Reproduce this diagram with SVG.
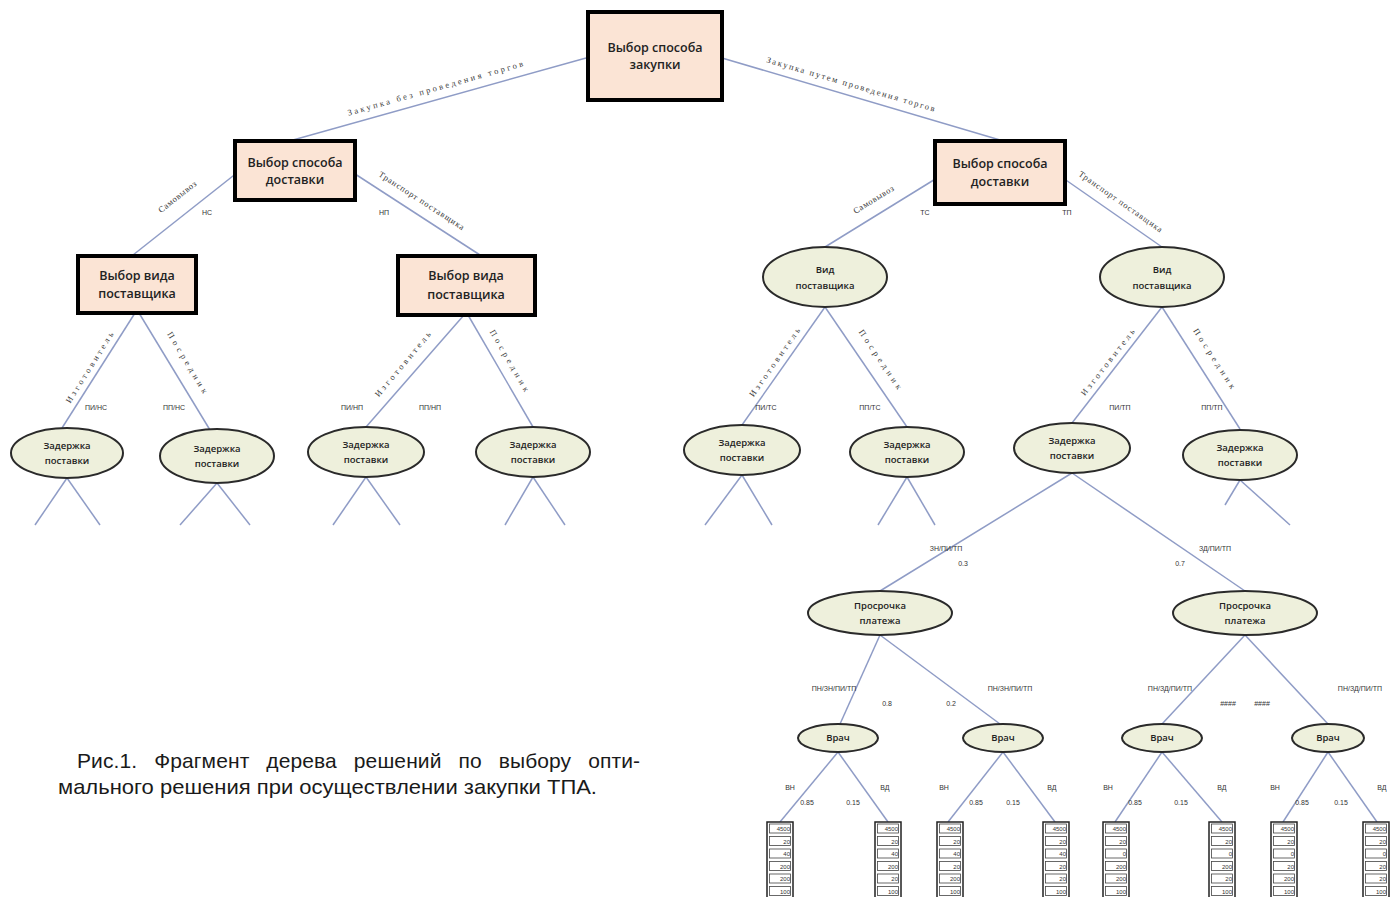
<svg xmlns="http://www.w3.org/2000/svg" xmlns:xlink="http://www.w3.org/1999/xlink" width="1391" height="897" viewBox="0 0 1391 897">
<style>
.box{fill:#fbe4d5;stroke:#000;stroke-width:4}
.ell{fill:#eef0dc;stroke:#2a2a2a;stroke-width:2}
.ln{stroke:#8f9cc6;stroke-width:1.5;fill:none}
.nt{font-family:"Open Sans","Liberation Sans",sans-serif;font-size:12.5px;font-weight:600;fill:#222;text-anchor:middle}
.et{font-family:"Open Sans","Liberation Sans",sans-serif;font-size:9.5px;font-weight:600;fill:#222;text-anchor:middle}
.el{font-family:"Liberation Serif",serif;font-size:8.5px;fill:#3a3a3a;text-anchor:middle}
.sm{font-family:"Liberation Sans",sans-serif;font-size:7px;fill:#333;text-anchor:middle}
.tv{font-family:"Liberation Sans",sans-serif;font-size:6px;fill:#333;text-anchor:end}
.cap{font-family:"Liberation Sans",sans-serif;font-size:21px;fill:#1a1a1a}
.tf{fill:#fff;stroke:#222;stroke-width:1.5}
.tc{fill:#fff;stroke:#444;stroke-width:0.8}
</style>
<defs>
<g id="frame">
<rect class="tf" x="0" y="0" width="26" height="76"/>
<rect class="tc" x="2.5" y="2" width="21" height="9"/>
<rect class="tc" x="2.5" y="14.5" width="21" height="9"/>
<rect class="tc" x="2.5" y="27" width="21" height="9"/>
<rect class="tc" x="2.5" y="39.5" width="21" height="9"/>
<rect class="tc" x="2.5" y="52" width="21" height="9"/>
<rect class="tc" x="2.5" y="64.5" width="21" height="9"/>
</g>
</defs>
<rect width="1391" height="897" fill="#fff"/>

<g id="connectors">
<line class="ln" x1="586" y1="58" x2="293" y2="140"/>
<line class="ln" x1="722" y1="58" x2="1000" y2="140"/>
<line class="ln" x1="238" y1="172" x2="133" y2="255"/>
<line class="ln" x1="352" y1="172" x2="480" y2="255"/>
<line class="ln" x1="937" y1="178" x2="825" y2="247"/>
<line class="ln" x1="1063" y1="178" x2="1162" y2="247"/>
<line class="ln" x1="135" y1="313" x2="62" y2="428"/>
<line class="ln" x1="139" y1="313" x2="210" y2="430"/>
<line class="ln" x1="464" y1="315" x2="366" y2="427"/>
<line class="ln" x1="468" y1="315" x2="533" y2="427"/>
<line class="ln" x1="825" y1="307" x2="742" y2="425"/>
<line class="ln" x1="825" y1="307" x2="907" y2="427"/>
<line class="ln" x1="1162" y1="307" x2="1072" y2="423"/>
<line class="ln" x1="1162" y1="307" x2="1240" y2="429"/>
<line class="ln" x1="67" y1="478" x2="35" y2="525"/>
<line class="ln" x1="67" y1="478" x2="100" y2="525"/>
<line class="ln" x1="217" y1="483" x2="180" y2="525"/>
<line class="ln" x1="217" y1="483" x2="250" y2="525"/>
<line class="ln" x1="366" y1="477" x2="333" y2="525"/>
<line class="ln" x1="366" y1="477" x2="400" y2="525"/>
<line class="ln" x1="533" y1="477" x2="505" y2="525"/>
<line class="ln" x1="533" y1="477" x2="565" y2="525"/>
<line class="ln" x1="742" y1="475" x2="705" y2="525"/>
<line class="ln" x1="742" y1="475" x2="772" y2="525"/>
<line class="ln" x1="907" y1="477" x2="878" y2="525"/>
<line class="ln" x1="907" y1="477" x2="935" y2="525"/>
<line class="ln" x1="1072" y1="473" x2="880" y2="591"/>
<line class="ln" x1="1072" y1="473" x2="1245" y2="591"/>
<line class="ln" x1="1240" y1="480" x2="1225" y2="505"/>
<line class="ln" x1="1240" y1="480" x2="1290" y2="525"/>
<line class="ln" x1="880" y1="635" x2="840" y2="724"/>
<line class="ln" x1="880" y1="635" x2="1000" y2="724"/>
<line class="ln" x1="1245" y1="635" x2="1162" y2="724"/>
<line class="ln" x1="1245" y1="635" x2="1328" y2="724"/>
<line class="ln" x1="838" y1="752" x2="780" y2="822"/>
<line class="ln" x1="838" y1="752" x2="888" y2="822"/>
<line class="ln" x1="1003" y1="752" x2="948" y2="822"/>
<line class="ln" x1="1003" y1="752" x2="1055" y2="822"/>
<line class="ln" x1="1162" y1="752" x2="1115" y2="822"/>
<line class="ln" x1="1162" y1="752" x2="1222" y2="822"/>
<line class="ln" x1="1328" y1="752" x2="1283" y2="822"/>
<line class="ln" x1="1328" y1="752" x2="1377" y2="822"/>

<text class="el" transform="translate(436,91) rotate(-15.8)" textLength="182" lengthAdjust="spacing">Закупка  без проведения торгов</text>
<text class="el" transform="translate(850,87) rotate(16.4)" textLength="175" lengthAdjust="spacing">Закупка путем проведения торгов</text>
<text class="el" transform="translate(179,199) rotate(-38)" textLength="46" lengthAdjust="spacing">Самовывоз</text>
<text class="sm" x="207" y="215">НС</text>
<text class="el" transform="translate(420,203) rotate(33)" textLength="100" lengthAdjust="spacing">Транспорт поставщика</text>
<text class="sm" x="384" y="215">НП</text>
<text class="el" transform="translate(875,202) rotate(-31.6)" textLength="46" lengthAdjust="spacing">Самовывоз</text>
<text class="sm" x="925" y="215">ТС</text>
<text class="el" transform="translate(1119,204) rotate(35)" textLength="100" lengthAdjust="spacing">Транспорт поставщика</text>
<text class="sm" x="1067" y="215">ТП</text>

<text class="el" transform="translate(92,369) rotate(-58)" textLength="82" lengthAdjust="spacing">Изготовитель</text>
<text class="el" transform="translate(185,364) rotate(59)" textLength="70" lengthAdjust="spacing">Посредник</text>
<text class="sm" x="96" y="410">ПИ/НС</text>
<text class="sm" x="174" y="410">ПП/НС</text>
<text class="el" transform="translate(405,366) rotate(-50)" textLength="82" lengthAdjust="spacing">Изготовитель</text>
<text class="el" transform="translate(507,362) rotate(60)" textLength="70" lengthAdjust="spacing">Посредник</text>
<text class="sm" x="352" y="410">ПИ/НП</text>
<text class="sm" x="430" y="410">ПП/НП</text>
<text class="el" transform="translate(777,364) rotate(-55)" textLength="82" lengthAdjust="spacing">Изготовитель</text>
<text class="el" transform="translate(878,361) rotate(56)" textLength="70" lengthAdjust="spacing">Посредник</text>
<text class="sm" x="766" y="410">ПИ/ТС</text>
<text class="sm" x="870" y="410">ПП/ТС</text>
<text class="el" transform="translate(1110,364) rotate(-52)" textLength="82" lengthAdjust="spacing">Изготовитель</text>
<text class="el" transform="translate(1212,360) rotate(57)" textLength="70" lengthAdjust="spacing">Посредник</text>
<text class="sm" x="1120" y="410">ПИ/ТП</text>
<text class="sm" x="1212" y="410">ПП/ТП</text>

<text class="sm" x="946" y="551">ЗН/ПИ/ТП</text>
<text class="sm" x="963" y="566">0.3</text>
<text class="sm" x="1215" y="551">ЗД/ПИ/ТП</text>
<text class="sm" x="1180" y="566">0.7</text>

<text class="sm" x="834" y="691">ПН/ЗН/ПИ/ТП</text>
<text class="sm" x="887" y="706">0.8</text>
<text class="sm" x="951" y="706">0.2</text>
<text class="sm" x="1010" y="691">ПН/ЗН/ПИ/ТП</text>
<text class="sm" x="1170" y="691">ПН/ЗД/ПИ/ТП</text>
<text class="sm" x="1228" y="706">####</text>
<text class="sm" x="1262" y="706">####</text>
<text class="sm" x="1360" y="691">ПН/ЗД/ПИ/ТП</text>

<text class="sm" x="790" y="790">ВН</text>
<text class="sm" x="807" y="805">0.85</text>
<text class="sm" x="853" y="805">0.15</text>
<text class="sm" x="885" y="790">ВД</text>
<text class="sm" x="944" y="790">ВН</text>
<text class="sm" x="976" y="805">0.85</text>
<text class="sm" x="1013" y="805">0.15</text>
<text class="sm" x="1052" y="790">ВД</text>
<text class="sm" x="1108" y="790">ВН</text>
<text class="sm" x="1135" y="805">0.85</text>
<text class="sm" x="1181" y="805">0.15</text>
<text class="sm" x="1222" y="790">ВД</text>
<text class="sm" x="1275" y="790">ВН</text>
<text class="sm" x="1302" y="805">0.85</text>
<text class="sm" x="1341" y="805">0.15</text>
<text class="sm" x="1382" y="790">ВД</text>
</g>

<g id="n-root"><rect class="box" x="588" y="12" width="134" height="88"/><text class="nt" x="655" y="52">Выбор способа</text><text class="nt" x="655" y="69">закупки</text></g>
<g id="n-deliv-l"><rect class="box" x="235" y="141" width="120" height="59"/><text class="nt" x="295" y="167">Выбор способа</text><text class="nt" x="295" y="184">доставки</text></g>
<g id="n-deliv-r"><rect class="box" x="935" y="141" width="130" height="63"/><text class="nt" x="1000" y="168">Выбор способа</text><text class="nt" x="1000" y="186">доставки</text></g>
<g id="n-sup-1"><rect class="box" x="78" y="256" width="118" height="57"/><text class="nt" x="137" y="280">Выбор вида</text><text class="nt" x="137" y="298">поставщика</text></g>
<g id="n-sup-2"><rect class="box" x="398" y="256" width="137" height="59"/><text class="nt" x="466" y="280">Выбор вида</text><text class="nt" x="466" y="299">поставщика</text></g>
<g id="n-sup-3"><ellipse class="ell" cx="825" cy="277" rx="62" ry="30"/><text class="et" x="825" y="273">Вид</text><text class="et" x="825" y="289">поставщика</text></g>
<g id="n-sup-4"><ellipse class="ell" cx="1162" cy="277" rx="62" ry="30"/><text class="et" x="1162" y="273">Вид</text><text class="et" x="1162" y="289">поставщика</text></g>

<g id="n-del-1"><ellipse class="ell" cx="67" cy="453" rx="56" ry="25"/><text class="et" x="67" y="449">Задержка</text><text class="et" x="67" y="464">поставки</text></g>
<g id="n-del-2"><ellipse class="ell" cx="217" cy="456" rx="57" ry="27"/><text class="et" x="217" y="452">Задержка</text><text class="et" x="217" y="467">поставки</text></g>
<g id="n-del-3"><ellipse class="ell" cx="366" cy="452" rx="58" ry="25"/><text class="et" x="366" y="448">Задержка</text><text class="et" x="366" y="463">поставки</text></g>
<g id="n-del-4"><ellipse class="ell" cx="533" cy="452" rx="57" ry="25"/><text class="et" x="533" y="448">Задержка</text><text class="et" x="533" y="463">поставки</text></g>
<g id="n-del-5"><ellipse class="ell" cx="742" cy="450" rx="58" ry="25"/><text class="et" x="742" y="446">Задержка</text><text class="et" x="742" y="461">поставки</text></g>
<g id="n-del-6"><ellipse class="ell" cx="907" cy="452" rx="57" ry="25"/><text class="et" x="907" y="448">Задержка</text><text class="et" x="907" y="463">поставки</text></g>
<g id="n-del-7"><ellipse class="ell" cx="1072" cy="448" rx="58" ry="25"/><text class="et" x="1072" y="444">Задержка</text><text class="et" x="1072" y="459">поставки</text></g>
<g id="n-del-8"><ellipse class="ell" cx="1240" cy="455" rx="57" ry="25"/><text class="et" x="1240" y="451">Задержка</text><text class="et" x="1240" y="466">поставки</text></g>

<g id="n-pay-1"><ellipse class="ell" cx="880" cy="613" rx="72" ry="22"/><text class="et" x="880" y="609">Просрочка</text><text class="et" x="880" y="624">платежа</text></g>
<g id="n-pay-2"><ellipse class="ell" cx="1245" cy="613" rx="72" ry="22"/><text class="et" x="1245" y="609">Просрочка</text><text class="et" x="1245" y="624">платежа</text></g>

<g id="n-doc-1"><ellipse class="ell" cx="838" cy="738" rx="40" ry="14"/><text class="et" x="838" y="741">Врач</text></g>
<g id="n-doc-2"><ellipse class="ell" cx="1003" cy="738" rx="40" ry="14"/><text class="et" x="1003" y="741">Врач</text></g>
<g id="n-doc-3"><ellipse class="ell" cx="1162" cy="738" rx="40" ry="14"/><text class="et" x="1162" y="741">Врач</text></g>
<g id="n-doc-4"><ellipse class="ell" cx="1328" cy="738" rx="36" ry="14"/><text class="et" x="1328" y="741">Врач</text></g>

<g id="t-1" transform="translate(767,822)"><use xlink:href="#frame"/><text class="tv" x="23" y="9">4500</text><text class="tv" x="23" y="21.5">20</text><text class="tv" x="23" y="34">40</text><text class="tv" x="23" y="46.5">200</text><text class="tv" x="23" y="59">200</text><text class="tv" x="23" y="71.5">100</text></g>
<g id="t-2" transform="translate(875,822)"><use xlink:href="#frame"/><text class="tv" x="23" y="9">4500</text><text class="tv" x="23" y="21.5">20</text><text class="tv" x="23" y="34">40</text><text class="tv" x="23" y="46.5">200</text><text class="tv" x="23" y="59">20</text><text class="tv" x="23" y="71.5">100</text></g>
<g id="t-3" transform="translate(937,822)"><use xlink:href="#frame"/><text class="tv" x="23" y="9">4500</text><text class="tv" x="23" y="21.5">20</text><text class="tv" x="23" y="34">40</text><text class="tv" x="23" y="46.5">20</text><text class="tv" x="23" y="59">200</text><text class="tv" x="23" y="71.5">100</text></g>
<g id="t-4" transform="translate(1043,822)"><use xlink:href="#frame"/><text class="tv" x="23" y="9">4500</text><text class="tv" x="23" y="21.5">20</text><text class="tv" x="23" y="34">40</text><text class="tv" x="23" y="46.5">20</text><text class="tv" x="23" y="59">20</text><text class="tv" x="23" y="71.5">100</text></g>
<g id="t-5" transform="translate(1103,822)"><use xlink:href="#frame"/><text class="tv" x="23" y="9">4500</text><text class="tv" x="23" y="21.5">20</text><text class="tv" x="23" y="34">0</text><text class="tv" x="23" y="46.5">200</text><text class="tv" x="23" y="59">200</text><text class="tv" x="23" y="71.5">100</text></g>
<g id="t-6" transform="translate(1209,822)"><use xlink:href="#frame"/><text class="tv" x="23" y="9">4500</text><text class="tv" x="23" y="21.5">20</text><text class="tv" x="23" y="34">0</text><text class="tv" x="23" y="46.5">200</text><text class="tv" x="23" y="59">20</text><text class="tv" x="23" y="71.5">100</text></g>
<g id="t-7" transform="translate(1271,822)"><use xlink:href="#frame"/><text class="tv" x="23" y="9">4500</text><text class="tv" x="23" y="21.5">20</text><text class="tv" x="23" y="34">0</text><text class="tv" x="23" y="46.5">20</text><text class="tv" x="23" y="59">200</text><text class="tv" x="23" y="71.5">100</text></g>
<g id="t-8" transform="translate(1363,822)"><use xlink:href="#frame"/><text class="tv" x="23" y="9">4500</text><text class="tv" x="23" y="21.5">20</text><text class="tv" x="23" y="34">0</text><text class="tv" x="23" y="46.5">20</text><text class="tv" x="23" y="59">20</text><text class="tv" x="23" y="71.5">100</text></g>

<g id="caption">
<text class="cap" x="77" y="768" word-spacing="11" textLength="563" lengthAdjust="spacing">Рис.1. Фрагмент дерева решений по выбору опти-</text>
<text class="cap" x="58" y="794" textLength="539" lengthAdjust="spacingAndGlyphs">мального решения при осуществлении закупки ТПА.</text>
</g>
</svg>
